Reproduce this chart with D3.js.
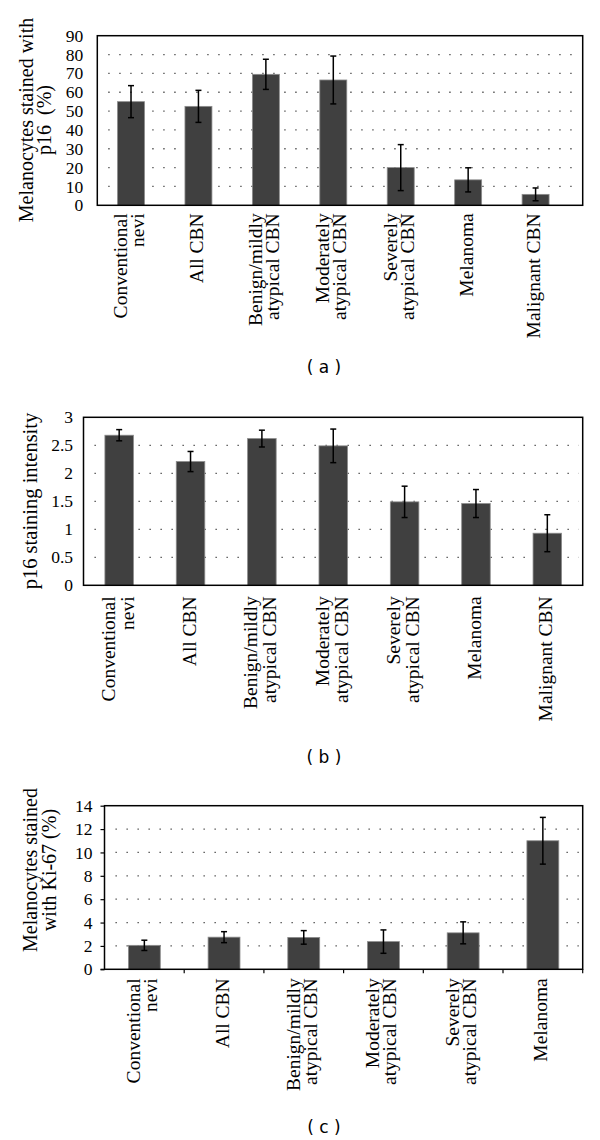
<!DOCTYPE html>
<html>
<head>
<meta charset="utf-8">
<script src="https://cdn.jsdelivr.net/npm/d3@7/dist/d3.min.js"></script>
<style>
  html, body { margin: 0; padding: 0; background: #fff; }
  svg { display: block; }
</style>
</head>
<body>
<script>
// ---------- data ----------
const categoriesAB = ["Conventional\nnevi", "All CBN", "Benign/mildly\natypical CBN", "Moderately\natypical CBN", "Severely\natypical CBN", "Melanoma", "Malignant CBN"];
const categoriesC = ["Conventional\nnevi", "All CBN", "Benign/mildly\natypical CBN", "Moderately\natypical CBN", "Severely\natypical CBN", "Melanoma"];

const p16Percent = [55, 52.5, 69.5, 66.5, 20, 13.5, 5.8];
const p16PercentErr = [8.5, 8.5, 8, 12.7, 12.2, 6.4, 3.4];

const p16Intensity = [2.68, 2.21, 2.62, 2.49, 1.49, 1.46, 0.93];
const p16IntensityErr = [0.1, 0.18, 0.15, 0.3, 0.28, 0.25, 0.33];

const ki67Percent = [2.05, 2.75, 2.73, 2.37, 3.12, 11.0];
const ki67PercentErr = [0.44, 0.47, 0.58, 1.0, 0.94, 2.0];

const ticksA = [0, 10, 20, 30, 40, 50, 60, 70, 80, 90];
const ticksB = [0, 0.5, 1, 1.5, 2, 2.5, 3];
const ticksC = [0, 2, 4, 6, 8, 10, 12, 14];

const titleA = ["Melanocytes stained with", "p16  (%)"];
const titleB = ["p16 staining intensity"];
const titleC = ["Melanocytes stained", "with Ki-67 (%)"];

const captions = ["( a )", "( b )", "( c )"];

// ---------- drawing ----------
const W = 600, H = 1140;
const svg = d3.select("body").append("svg").attr("width", W).attr("height", H);
const SERIF = "'Liberation Serif', 'Times New Roman', serif";

function drawPanel(o) {
  const g = svg.append("g");
  const x = d3.scaleBand().domain(o.cats).range([o.left, o.bandRight]).paddingInner(0.6).paddingOuter(0.3);
  const y = d3.scaleLinear().domain([0, o.max]).range([o.bottom, o.top]);

  // dotted gridlines
  g.append("g").selectAll("line").data(o.ticks.filter(t => t > 0 && t < o.max)).join("line")
    .attr("x1", o.left + 11).attr("x2", o.right - 4)
    .attr("y1", d => y(d)).attr("y2", d => y(d))
    .attr("stroke", "#444").attr("stroke-width", 1.3)
    .attr("stroke-dasharray", "1.3 9.7");

  // bars
  const data = o.cats.map((c, i) => ({ c, v: o.values[i], e: o.errors[i] }));
  g.append("g").selectAll("rect").data(data).join("rect")
    .attr("x", d => x(d.c)).attr("width", x.bandwidth())
    .attr("y", d => y(d.v)).attr("height", d => y(0) - y(d.v))
    .attr("fill", "#404040").attr("stroke", "#8c8c8c").attr("stroke-width", 0.8);

  // error bars
  const eb = g.append("g").attr("stroke", "#000").attr("stroke-width", 1.5);
  data.forEach(d => {
    const cx = x(d.c) + x.bandwidth() / 2;
    eb.append("line").attr("x1", cx).attr("x2", cx).attr("y1", y(d.v + d.e)).attr("y2", y(d.v - d.e));
    eb.append("line").attr("x1", cx - 3).attr("x2", cx + 3).attr("y1", y(d.v + d.e)).attr("y2", y(d.v + d.e));
    eb.append("line").attr("x1", cx - 3).attr("x2", cx + 3).attr("y1", y(d.v - d.e)).attr("y2", y(d.v - d.e));
  });

  // box
  g.append("rect").attr("x", o.left).attr("y", o.top)
    .attr("width", o.right - o.left).attr("height", o.bottom - o.top)
    .attr("fill", "none").attr("stroke", "#000").attr("stroke-width", 1.5);

  // y axis tick labels
  const yAxis = d3.axisLeft(y).tickValues(o.ticks).tickSize(o.yTickSize).tickPadding(o.yTickPad)
    .tickFormat(d3.format("~g"));
  const ya = g.append("g").attr("transform", `translate(${o.left},0)`).call(yAxis);
  ya.select(".domain").remove();
  ya.selectAll(".tick line").attr("stroke", "#000").attr("stroke-width", 1.2);
  ya.selectAll(".tick text").attr("font-family", SERIF).attr("font-size", o.tickFont).attr("fill", "#000");

  // x axis ticks (panel c)
  if (o.xTicks) {
    const xa = g.append("g");
    const bounds = o.cats.map(c => x(c) - x.step() * x.paddingInner() / 2 + x.step());
    xa.selectAll("line").data(bounds).join("line")
      .attr("x1", d => d).attr("x2", d => d).attr("y1", o.bottom).attr("y2", o.bottom + 4)
      .attr("stroke", "#000").attr("stroke-width", 1.2);
    xa.append("line").attr("x1", o.left - o.yTickSize).attr("x2", o.left).attr("y1", o.bottom).attr("y2", o.bottom)
      .attr("stroke", "#000").attr("stroke-width", 1.2);
  }

  // category labels
  o.cats.forEach(c => {
    const cx = x(c) + x.bandwidth() / 2;
    const lines = c.split("\n");
    lines.forEach((ln, i) => {
      const bx = cx + o.labBase + (i - (lines.length - 1) / 2) * o.labLH;
      const by = o.bottom + o.labGap;
      g.append("text").attr("transform", `translate(${bx},${by}) rotate(-90)`)
        .attr("text-anchor", "end").attr("font-family", SERIF).attr("font-size", o.labFont)
        .attr("fill", "#000").text(ln);
    });
  });

  // y title
  o.title.forEach((t, i) => {
    g.append("text").attr("transform", `translate(${o.titleX[i]},${o.titleY}) rotate(-90)`)
      .attr("text-anchor", "middle").attr("font-family", SERIF).attr("font-size", o.titleFont)
      .attr("fill", "#000").style("white-space", "pre").text(t);
  });

  // caption
  g.append("text").attr("x", 324).attr("y", o.capY).attr("text-anchor", "middle")
    .attr("font-family", "'DejaVu Sans', sans-serif").attr("font-size", 17)
    .attr("fill", "#000").style("white-space", "pre").text(o.caption);
}

drawPanel({
  cats: categoriesAB, values: p16Percent, errors: p16PercentErr, ticks: ticksA, max: 90,
  left: 97.3, right: 582.7, bandRight: 569.3, top: 35.7, bottom: 205.3,
  yTickSize: 0, yTickPad: 14, tickFont: 17.5,
  labGap: 8, labBase: 4.5, labLH: 17, labFont: 19.5,
  title: titleA, titleX: [33, 51], titleY: 120, titleFont: 20,
  caption: captions[0], capY: 373
});

drawPanel({
  cats: categoriesAB, values: p16Intensity, errors: p16IntensityErr, ticks: ticksB, max: 3,
  left: 83.5, right: 582.7, bandRight: 583, top: 417.3, bottom: 585.3,
  yTickSize: 0, yTickPad: 10.5, tickFont: 17.5,
  labGap: 11, labBase: 5, labLH: 19, labFont: 19.5,
  title: titleB, titleX: [37], titleY: 501, titleFont: 20.5,
  caption: captions[1], capY: 763
});

drawPanel({
  cats: categoriesC, values: ki67Percent, errors: ki67PercentErr, ticks: ticksC, max: 14,
  left: 104.5, right: 582.7, bandRight: 582.7, top: 805.7, bottom: 969.3,
  yTickSize: 4, yTickPad: 8, tickFont: 17.5, xTicks: true,
  labGap: 9, labBase: 4.5, labLH: 17, labFont: 19.5,
  title: titleC, titleX: [37, 56], titleY: 870, titleFont: 20,
  caption: captions[2], capY: 1133
});
</script>
</body>
</html>
